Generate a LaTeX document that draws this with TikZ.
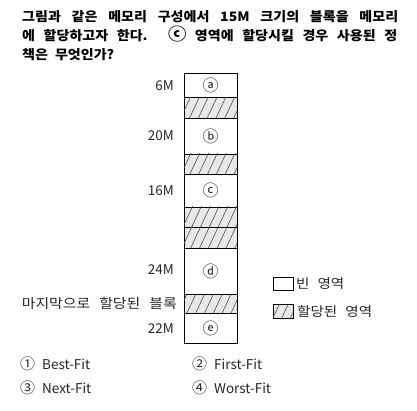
\documentclass[tikz,border=0pt]{standalone}
\usepackage{fontspec}
\setmainfont{Noto Sans CJK KR}
\newfontfamily\tfont{Noto Sans CJK KR}[FakeStretch=1.08]
\newfontfamily\hfont{Noto Sans CJK KR}[FakeStretch=1.12]
\usetikzlibrary{patterns.meta}
\newcommand\enc[1]{{\fontsize{16}{16}\selectfont #1}}
\newcommand\encn[1]{{\fontsize{15}{15}\selectfont #1}}
\tikzset{
  title/.style={anchor=base west, inner sep=0pt, font=\tfont\fontsize{13}{15}\selectfont\bfseries},
  lbl/.style={anchor=base east, inner sep=0pt, text=black!85, font=\fontsize{13.5}{15}\selectfont},
  hlbl/.style={anchor=base east, inner sep=0pt, text=black!85, font=\hfont\fontsize{13.3}{15}\selectfont},
  legtxt/.style={anchor=base west, inner sep=0pt, text=black!85, font=\hfont\fontsize{13}{15}\selectfont},
  opt/.style={anchor=base west, inner sep=0pt, text=black!85, font=\fontsize{13.5}{15}\selectfont},
  mem/.style={draw, line width=0.9pt, minimum width=53pt, inner sep=0pt, outer sep=0pt, text=black!85},
  freebox/.style={mem, fill=white},
  hatchbox/.style={mem, fill=gray!18, postaction={pattern={Lines[angle=65,distance=8pt,line width=0.6pt]}, pattern color=black!70}},
}
\begin{document}
\begin{tikzpicture}[x=1pt,y=-1pt]
\useasboundingbox[fill=white] (0,0) rectangle (417,411);
% question
\node[title] (q1) at (22,22) {\makebox[376pt][s]{그림과 같은 메모리 구성에서 15M 크기의 블록을 메모리}};
\node[title] (q2) at (22,41) {\makebox[375pt][s]{에 할당하고자 한다. {\fontsize{17}{17}\selectfont ⓒ} 영역에 할당시킬 경우 사용된 정}};
\node[title] (q3) at (22,60) {책은\hspace{7pt}무엇인가?};
% memory column
\node[freebox, minimum height=24.5pt] (a) at (210.5,85.25) {\enc{ⓐ}};
\node[hatchbox, minimum height=20.5pt] (h1) at (210.5,107.75) {};
\node[freebox, minimum height=36pt] (b) at (210.5,136) {\enc{ⓑ}};
\node[hatchbox, minimum height=20pt] (h2) at (210.5,164) {};
\node[freebox, minimum height=33pt] (c) at (210.5,190.5) {\enc{ⓒ}};
\node[hatchbox, minimum height=20pt] (h3) at (210.5,217) {};
\node[hatchbox, minimum height=21pt] (h4) at (210.5,237.5) {};
\node[freebox, minimum height=46pt] (d) at (210.5,271) {\enc{ⓓ}};
\node[hatchbox, minimum height=19pt] (h5) at (210.5,303.5) {};
\node[freebox, minimum height=30pt] (e) at (210.5,328) {\enc{ⓔ}};
% size labels
\node[lbl] (la) at (174,90.5) {6M};
\node[lbl] (lb) at (174,141) {20M};
\node[lbl] (lc) at (174,196) {16M};
\node[lbl] (ld) at (174,275) {24M};
\node[hlbl] (lh) at (177,308) {\makebox[155pt][s]{마지막으로 할당된 블록}};
\node[lbl] (le) at (174,333) {22M};
% legend
\node[mem, line width=0.8pt, minimum width=20pt, minimum height=13pt] (k1) at (283,283.5) {};
\node[legtxt] (t1) at (296,288) {빈\hspace{8pt}영역};
\node[hatchbox, line width=0.8pt, minimum width=20pt, minimum height=14pt] (k2) at (283,311) {};
\node[legtxt] (t2) at (297,316) {할당된\hspace{8pt}영역};
% options
\node[opt] (o1) at (20,369) {\encn{①}\hspace{7pt}Best-Fit};
\node[opt] (o2) at (192,369) {\encn{②}\hspace{7pt}First-Fit};
\node[opt] (o3) at (20,393) {\encn{③}\hspace{7pt}Next-Fit};
\node[opt] (o4) at (192,393) {\encn{④}\hspace{7pt}Worst-Fit};
\end{tikzpicture}
\end{document}
